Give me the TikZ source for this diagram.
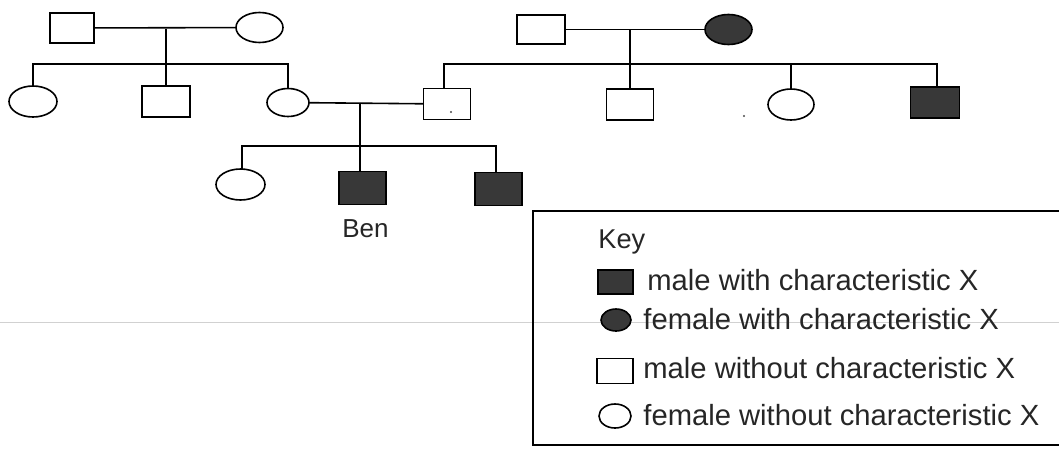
\documentclass[tikz,border=0pt]{standalone}
\usepackage{fontspec}
\usepackage{graphicx}
\setmainfont{Liberation Sans}
\usetikzlibrary{shapes.geometric}
\definecolor{affcol}{gray}{0.22}
\tikzset{
  ind/.style={draw=black, line width=0.8pt, inner sep=0pt, outer sep=0pt},
  male/.style={ind, rectangle},
  female/.style={ind, ellipse},
  aff/.style={fill=affcol},
  sz/.style 2 args={minimum width=#1*0.5pt, minimum height=#2*0.5pt},
  link/.style={line width=0.8pt, black},
  keytxt/.style={font=\fontsize{14.6}{16}\selectfont, anchor=base west, inner sep=0pt, text=black!85},
}
\begin{document}
\begin{tikzpicture}[x=0.5pt,y=-0.5pt]
\useasboundingbox (0,0) rectangle (1059,450);
\fill[white] (0,0) rectangle (1059,450);
% scan line
\draw[black!18, line width=0.4pt] (0,322) -- (1059,322);

% ---------- left family, generation I
\node[male, sz={44}{30}] (a1) at (72,28) {};
\node[female, sz={47}{30}] (a2) at (259.5,27.5) {};
\coordinate (m1) at (166,28.5);
\coordinate (s1) at (166,64);
\draw[link] (a1) -- (a2);
% generation II (left)
\node[female, sz={48}{31}] (b1) at (33,101.5) {};
\node[male, sz={48}{31}] (b2) at (166,101.5) {};
\node[female, sz={42}{28}] (b3) at (288,102.5) {};
\draw[link] (m1) -- (b2.north);
\draw[link] (b1.north) |- (s1) -| (b3.north);

% ---------- right family, generation I
\node[male, sz={48}{29}] (c1) at (541,29.5) {};
\node[female, aff, sz={47}{30}] (c2) at (728.5,29.5) {};
\coordinate (m2) at (630,29.5);
\coordinate (s2) at (630,64);
\draw[link] (c1) -- (c2);
% generation II (right)
\node[male, sz={47}{31}] (d1) at (447,104) {};
\node[male, sz={47}{31}] (d2) at (630,104.5) {};
\node[female, sz={46}{31}] (d3) at (791,104.5) {};
\node[male, aff, sz={49}{31}] (d4) at (935,102.5) {};
\coordinate (d1t) at (444,88.5);
\coordinate (d4t) at (937,87);
\draw[link] (m2) -- (d2.north);
\draw[link] (d1t) |- (s2) -| (d4t);
\draw[link] (d3.north) -- (d3.north |- s2);

% specks
\fill[black!70] (451,112) circle (1.2);
\fill[black!70] (744,116) circle (1.2);

% ---------- marriage b3 x d1, generation III
\draw[link] (b3) -- (d1);
\coordinate (m3) at (360,102.5);
\coordinate (s3) at (360,146);
\node[female, sz={49}{31}] (e1) at (240.5,184.5) {};
\node[male, aff, sz={47}{33}] (e2) at (362.5,188) {};
\node[male, aff, sz={47}{33}] (e3) at (498.5,189) {};
\coordinate (e1t) at (242,169);
\coordinate (e2t) at (360,171.5);
\coordinate (e3t) at (496,172.5);
\draw[link] (m3) -- (e2t);
\draw[link] (e1t) |- (s3) -| (e3t);
\node[font=\fontsize{13}{15}\selectfont, anchor=base west, inner sep=0pt, text=black!85] (ben) at (342,237) {Ben};

% ---------- key
\draw[line width=0.8pt] (1059,211) -- (533,211) -- (533,445) -- (1059,445);
\node[keytxt, font=\fontsize{13.6}{15}\selectfont] (keyt) at (598,248) {Key};
\node[male, aff, sz={35}{24}] (k1) at (615.5,282) {};
\node[keytxt] (k1t) at (647,290) {male with characteristic X};
\node[female, aff, sz={30}{22}] (k2) at (616,320) {};
\node[keytxt] (k2t) at (643,329) {female with characteristic X};
\node[male, sz={36}{25}] (k3) at (615,371) {};
\node[keytxt] (k3t) at (643,378) {male without characteristic X};
\node[female, sz={32}{24}] (k4) at (615,416) {};
\node[keytxt] (k4t) at (643,425) {female without characteristic X};
\end{tikzpicture}
\end{document}
